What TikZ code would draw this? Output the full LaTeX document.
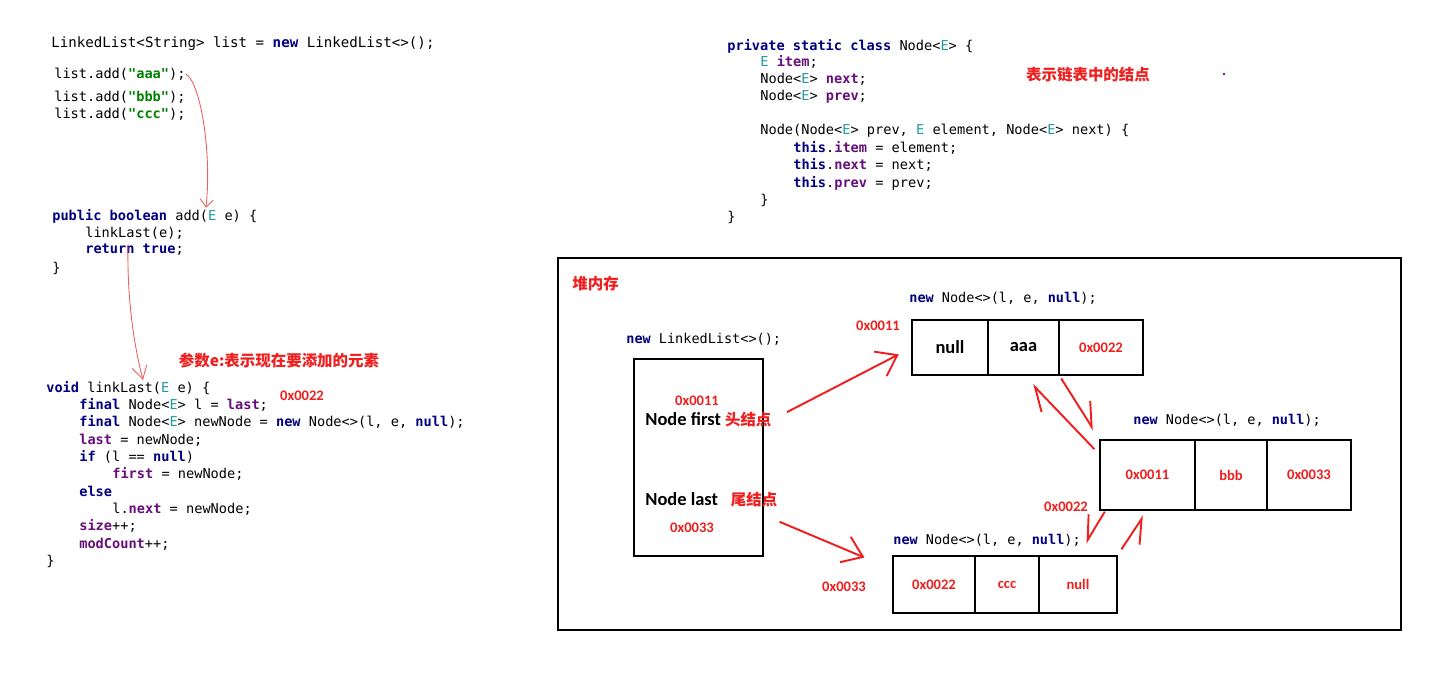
\documentclass[tikz,border=0pt]{standalone}
\usepackage{fontspec}
\setmainfont{Carlito}
\setmonofont{DejaVu Sans Mono}
\newfontfamily\cjk{Noto Sans CJK SC}
\usetikzlibrary{positioning,arrows.meta}

\definecolor{kwblue}{RGB}{0,0,128}
\definecolor{tyteal}{RGB}{32,153,157}
\definecolor{strgreen}{RGB}{0,128,0}
\definecolor{fldpurple}{RGB}{102,14,122}
\definecolor{markred}{RGB}{240,30,30}
\definecolor{penred}{RGB}{232,96,96}

\newcommand{\jkw}[1]{\textcolor{kwblue}{\textbf{#1}}}
\newcommand{\jty}[1]{\textcolor{tyteal}{#1}}
\newcommand{\jstr}[1]{\textcolor{strgreen}{\textbf{#1}}}
\newcommand{\jfld}[1]{\textcolor{fldpurple}{\textbf{#1}}}
\newcommand{\cnred}[1]{\textcolor{markred}{\cjk\bfseries\fontsize{8.8}{10}\selectfont #1}}

\begin{document}
\begin{tikzpicture}[x=0.02cm,y=-0.02cm,
    code/.style={anchor=west,inner sep=0pt,font=\ttfamily\fontsize{7.75}{9.4}\selectfont},
    heapcode/.style={code,font=\ttfamily\fontsize{7.7}{9}\selectfont},
    redlbl/.style={text=markred,inner sep=0pt,font=\bfseries\fontsize{8.3}{10}\selectfont},
    cnlbl/.style={text=markred,inner sep=0pt,font=\cjk\bfseries\fontsize{8.8}{10}\selectfont},
    blk/.style={inner sep=0pt,font=\bfseries\fontsize{10.5}{12}\selectfont},
    cell/.style={draw,line width=1.3pt,outer sep=0pt,inner sep=0pt},
    ptr/.style={draw,markred,line width=1.1pt,-{Straight Barb[length=0.38cm,width=0.55cm]}},
    hptr/.style={draw,markred,line width=1.1pt,-{Straight Barb[harpoon,length=0.45cm,width=0.5cm]}},
    hptrs/.style={draw,markred,line width=1.1pt,-{Straight Barb[harpoon,swap,length=0.45cm,width=0.5cm]}},
    pen/.style={penred,line width=0.5pt}]
  \useasboundingbox (0,0) rectangle (1435,672);

  % calling code
  \node[code,font=\ttfamily\fontsize{8.05}{9.6}\selectfont] (decl) at (51,44) {LinkedList<String> list = \jkw{new} LinkedList<>();};
  \node[code] (adda) at (54,74) {list.add(\jstr{"aaa"});};
  \node[code] (addb) at (54,97) {list.add(\jstr{"bbb"});};
  \node[code] (addc) at (54,114) {list.add(\jstr{"ccc"});};

  % add()
  \node[code] (padd) at (52,216) {\jkw{public} \jkw{boolean} add(\jty{E} e) \{};
  \node[code] (plink) at (85,233) {linkLast(e);};
  \node[code] (pret) at (85,250) {\jkw{return} \jkw{true};};
  \node[code] (pend) at (52,268) {\}};

  % linkLast()
  \node[code] (vll) at (46,388) {\jkw{void} linkLast(\jty{E} e) \{};
  \node[code] (l1) at (79,405) {\jkw{final} Node<\jty{E}> l = \jfld{last};};
  \node[code] (l2) at (79,422) {\jkw{final} Node<\jty{E}> newNode = \jkw{new} Node<>(l, e, \jkw{null});};
  \node[code] (l3) at (79,440) {\jfld{last} = newNode;};
  \node[code] (l4) at (79,457) {\jkw{if} (l == \jkw{null})};
  \node[code] (l5) at (112,474) {\jfld{first} = newNode;};
  \node[code] (l6) at (79,491) {\jkw{else}};
  \node[code] (l7) at (112,509) {l.\jfld{next} = newNode;};
  \node[code] (l8) at (79,526) {\jfld{size}++;};
  \node[code] (l9) at (79,544) {\jfld{modCount}++;};
  \node[code] (l10) at (46,561) {\}};
  \node[cnlbl] (param) at (279,361) {参数e:表示现在要添加的元素};
  \node[redlbl] (lastaddr) at (302,396) {0x0022};

  \draw[pen,-{Straight Barb[length=0.15cm,width=0.26cm]}] (adda.east)
    .. controls (200,82) and (212,150) .. ([xshift=3.08cm,yshift=0.02cm]padd.north west);
  \draw[pen,-{Straight Barb[length=0.26cm,width=0.3cm]}] ([xshift=0.86cm,yshift=-0.1cm]plink.south west)
    .. controls (127,300) and (134,345) .. ([xshift=1.94cm,yshift=0.02cm]vll.north west);

  % Node class
  \node[code] (c1) at (727,46) {\jkw{private} \jkw{static} \jkw{class} Node<\jty{E}> \{};
  \node[code] (c2) at (760,62) {\jty{E} \jfld{item};};
  \node[code] (c3) at (760,79) {Node<\jty{E}> \jfld{next};};
  \node[code] (c4) at (760,97) {Node<\jty{E}> \jfld{prev};};
  \node[code] (c5) at (760,131) {Node(Node<\jty{E}> prev, \jty{E} element, Node<\jty{E}> next) \{};
  \node[code] (c6) at (793,148) {\jkw{this}.\jfld{item} = element;};
  \node[code] (c7) at (793,165) {\jkw{this}.\jfld{next} = next;};
  \node[code] (c8) at (793,183) {\jkw{this}.\jfld{prev} = prev;};
  \node[code] (c9) at (760,200) {\}};
  \node[code] (c10) at (727,217) {\}};
  \node[cnlbl] (nodenote) at (1088,75) {表示链表中的结点};
  \fill[fldpurple] (1224,74) circle (0.8pt);

  % heap
  \draw[line width=1.2pt] (558,258) rectangle (1401,630);
  \node[cnlbl,anchor=west] (heap) at (572,284) {堆内存};

  \node[heapcode] (newll) at (626,339) {\jkw{new} LinkedList<>();};
  \node[draw,line width=1.2pt,minimum width=2.58cm,minimum height=3.94cm,
        inner sep=0pt,anchor=north west] (llbox) at (633,358) {};
  \node[redlbl] (firstaddr) at (697,401) {0x0011};
  \node[blk,anchor=west] (first) at (645,420) {Node first \cnred{头结点}};
  \node[blk,anchor=west] (last) at (645,500) {Node last\hspace{0.26cm}\cnred{尾结点}};
  \node[redlbl] (lastaddr2) at (692,528) {0x0033};

  % first node
  \node[heapcode] (new1) at (909,298) {\jkw{new} Node<>(l, e, \jkw{null});};
  \node[redlbl] (a1) at (878,326) {0x0011};
  \node[cell,blk,minimum width=1.52cm,minimum height=1.1cm,anchor=north west] (n1a) at (912,320) {null};
  \node[cell,blk,minimum width=1.42cm,minimum height=1.1cm,right=0pt of n1a] (n1b) {aaa};
  \node[cell,redlbl,minimum width=1.68cm,minimum height=1.1cm,right=0pt of n1b] (n1c) {0x0022};

  % second node
  \node[heapcode] (new2) at (1133,420) {\jkw{new} Node<>(l, e, \jkw{null});};
  \node[redlbl] (a2) at (1066,507) {0x0022};
  \node[cell,redlbl,minimum width=1.9cm,minimum height=1.4cm,anchor=north west] (n2a) at (1100,440) {0x0011};
  \node[cell,redlbl,minimum width=1.44cm,minimum height=1.4cm,right=0pt of n2a] (n2b) {bbb};
  \node[cell,redlbl,minimum width=1.68cm,minimum height=1.4cm,right=0pt of n2b] (n2c) {0x0033};

  % third node
  \node[heapcode] (new3) at (893,540) {\jkw{new} Node<>(l, e, \jkw{null});};
  \node[redlbl] (a3) at (844,587) {0x0033};
  \node[cell,redlbl,minimum width=1.64cm,minimum height=1.14cm,anchor=north west] (n3a) at (893,556) {0x0022};
  \node[cell,redlbl,minimum width=1.28cm,minimum height=1.14cm,right=0pt of n3a] (n3b) {ccc};
  \node[cell,redlbl,minimum width=1.56cm,minimum height=1.14cm,right=0pt of n3b] (n3c) {null};

  % pointers
  \path (first.east) edge[ptr,shorten <=0.34cm,shorten >=0.3cm] (n1a.west)
        ([yshift=-0.42cm]last.east) edge[ptr,shorten <=0.04cm,shorten >=0.62cm] (n3a.160)
        (n1c.south west) edge[hptr,shorten <=0.08cm,shorten >=0.24cm] (n2a.north west)
        ([yshift=-0.3cm]n2a.north west) edge[hptr,shorten <=0.16cm,shorten >=0.26cm] (n1b.south)
        (n2a.-140) edge[hptrs,shorten <=0.04cm,shorten >=0.3cm] (n3c.north)
        (n3c.north east) edge[hptrs,shorten <=0.16cm,shorten >=0.14cm] (n2a.south);
\end{tikzpicture}
\end{document}
